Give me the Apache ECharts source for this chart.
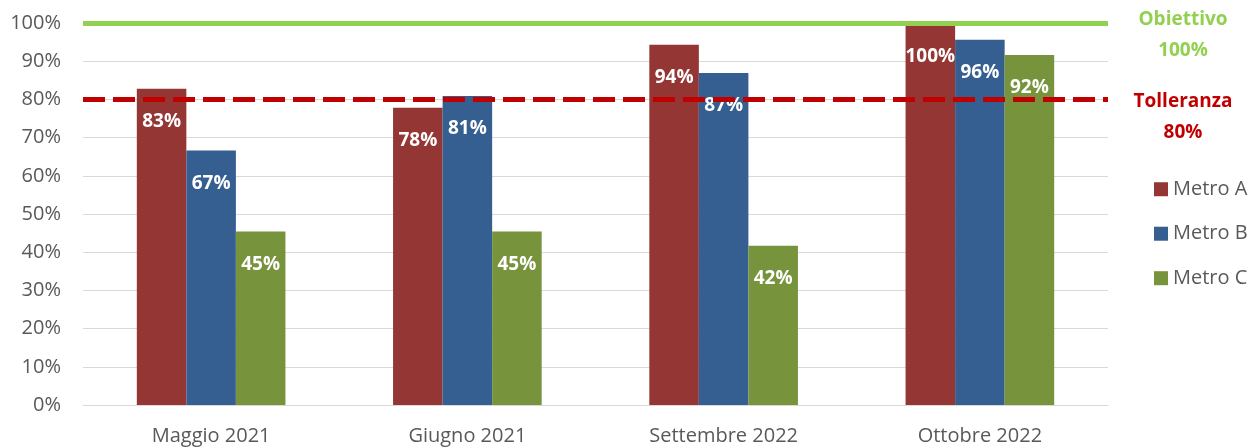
<html>
<head>
<script src="https://cdn.jsdelivr.net/npm/echarts@6/dist/echarts.min.js"></script>
<style>
    body { margin: 0; background: #fff; }
    #graph { width: 1257px; height: 448px; }
</style>
</head>
<body>
<div id="graph"></div>
<script>
    // data
    const categorie = ['Maggio 2021', 'Giugno 2021', 'Settembre 2022', 'Ottobre 2022'];
    const metroA = [82.8, 77.8, 94.3, 99.6];
    const metroB = [66.6, 80.9, 86.9, 95.6];
    const metroC = [45.4, 45.4, 41.7, 91.6];
    const obiettivo = 100;
    const tolleranza = 80;

    const font = 'Open Sans';
    const grigio = '#595959';

    function serie(name, data, color) {
        return {
            name: name,
            type: 'bar',
            data: data,
            barGap: '0%',
            barCategoryGap: '42%',
            itemStyle: { color: color },
            label: {
                show: true,
                position: 'insideTop',
                distance: 15,
                color: '#fff',
                fontWeight: 'bold',
                fontSize: 19,
                fontFamily: font,
                formatter: function (p) { return Math.round(p.value) + '%'; }
            }
        };
    }

    const s = [
        serie('Metro A', metroA, '#943634'),
        serie('Metro B', metroB, '#365F91'),
        serie('Metro C', metroC, '#77933C')
    ];

    s[0].markLine = {
        symbol: 'none',
        silent: true,
        data: [
            {
                yAxis: obiettivo,
                lineStyle: { color: '#92D050', width: 5, type: 'solid' },
                label: {
                    position: 'end', distance: 75, align: 'center', verticalAlign: 'middle',
                    offset: [0, 12], lineHeight: 31,
                    color: '#92D050', fontWeight: 'bold', fontSize: 19, fontFamily: font,
                    formatter: 'Obiettivo\n' + obiettivo + '%'
                }
            },
            {
                yAxis: tolleranza,
                lineStyle: { color: '#C00000', width: 5, type: [22, 8] },
                label: {
                    position: 'end', distance: 75, align: 'center', verticalAlign: 'middle',
                    offset: [0, 18], lineHeight: 31,
                    color: '#C00000', fontWeight: 'bold', fontSize: 19, fontFamily: font,
                    formatter: 'Tolleranza\n' + tolleranza + '%'
                }
            }
        ]
    };

    const chart = echarts.init(document.getElementById('graph'));
    chart.setOption({
        animation: false,
        grid: { left: 83, right: 149, top: 23, bottom: 43, outerBoundsMode: 'none', containLabel: false },
        legend: {
            orient: 'vertical',
            left: 1149,
            top: 168,
            itemWidth: 14,
            itemHeight: 14,
            itemGap: 12,
            icon: 'rect',
            textStyle: { color: grigio, fontSize: 20, fontFamily: font },
            data: ['Metro A', 'Metro B', 'Metro C']
        },
        xAxis: {
            type: 'category',
            data: categorie,
            axisTick: { show: false },
            axisLine: { lineStyle: { color: '#D9D9D9', width: 1 } },
            axisLabel: { color: grigio, fontSize: 20, fontFamily: font, margin: 15 }
        },
        yAxis: {
            type: 'value',
            min: 0,
            max: 100,
            interval: 10,
            axisLabel: { color: grigio, fontSize: 20, fontFamily: font, margin: 22, formatter: '{value}%' },
            splitLine: { lineStyle: { color: '#D9D9D9', width: 1 } }
        },
        series: s
    });
</script>
</body>
</html>
